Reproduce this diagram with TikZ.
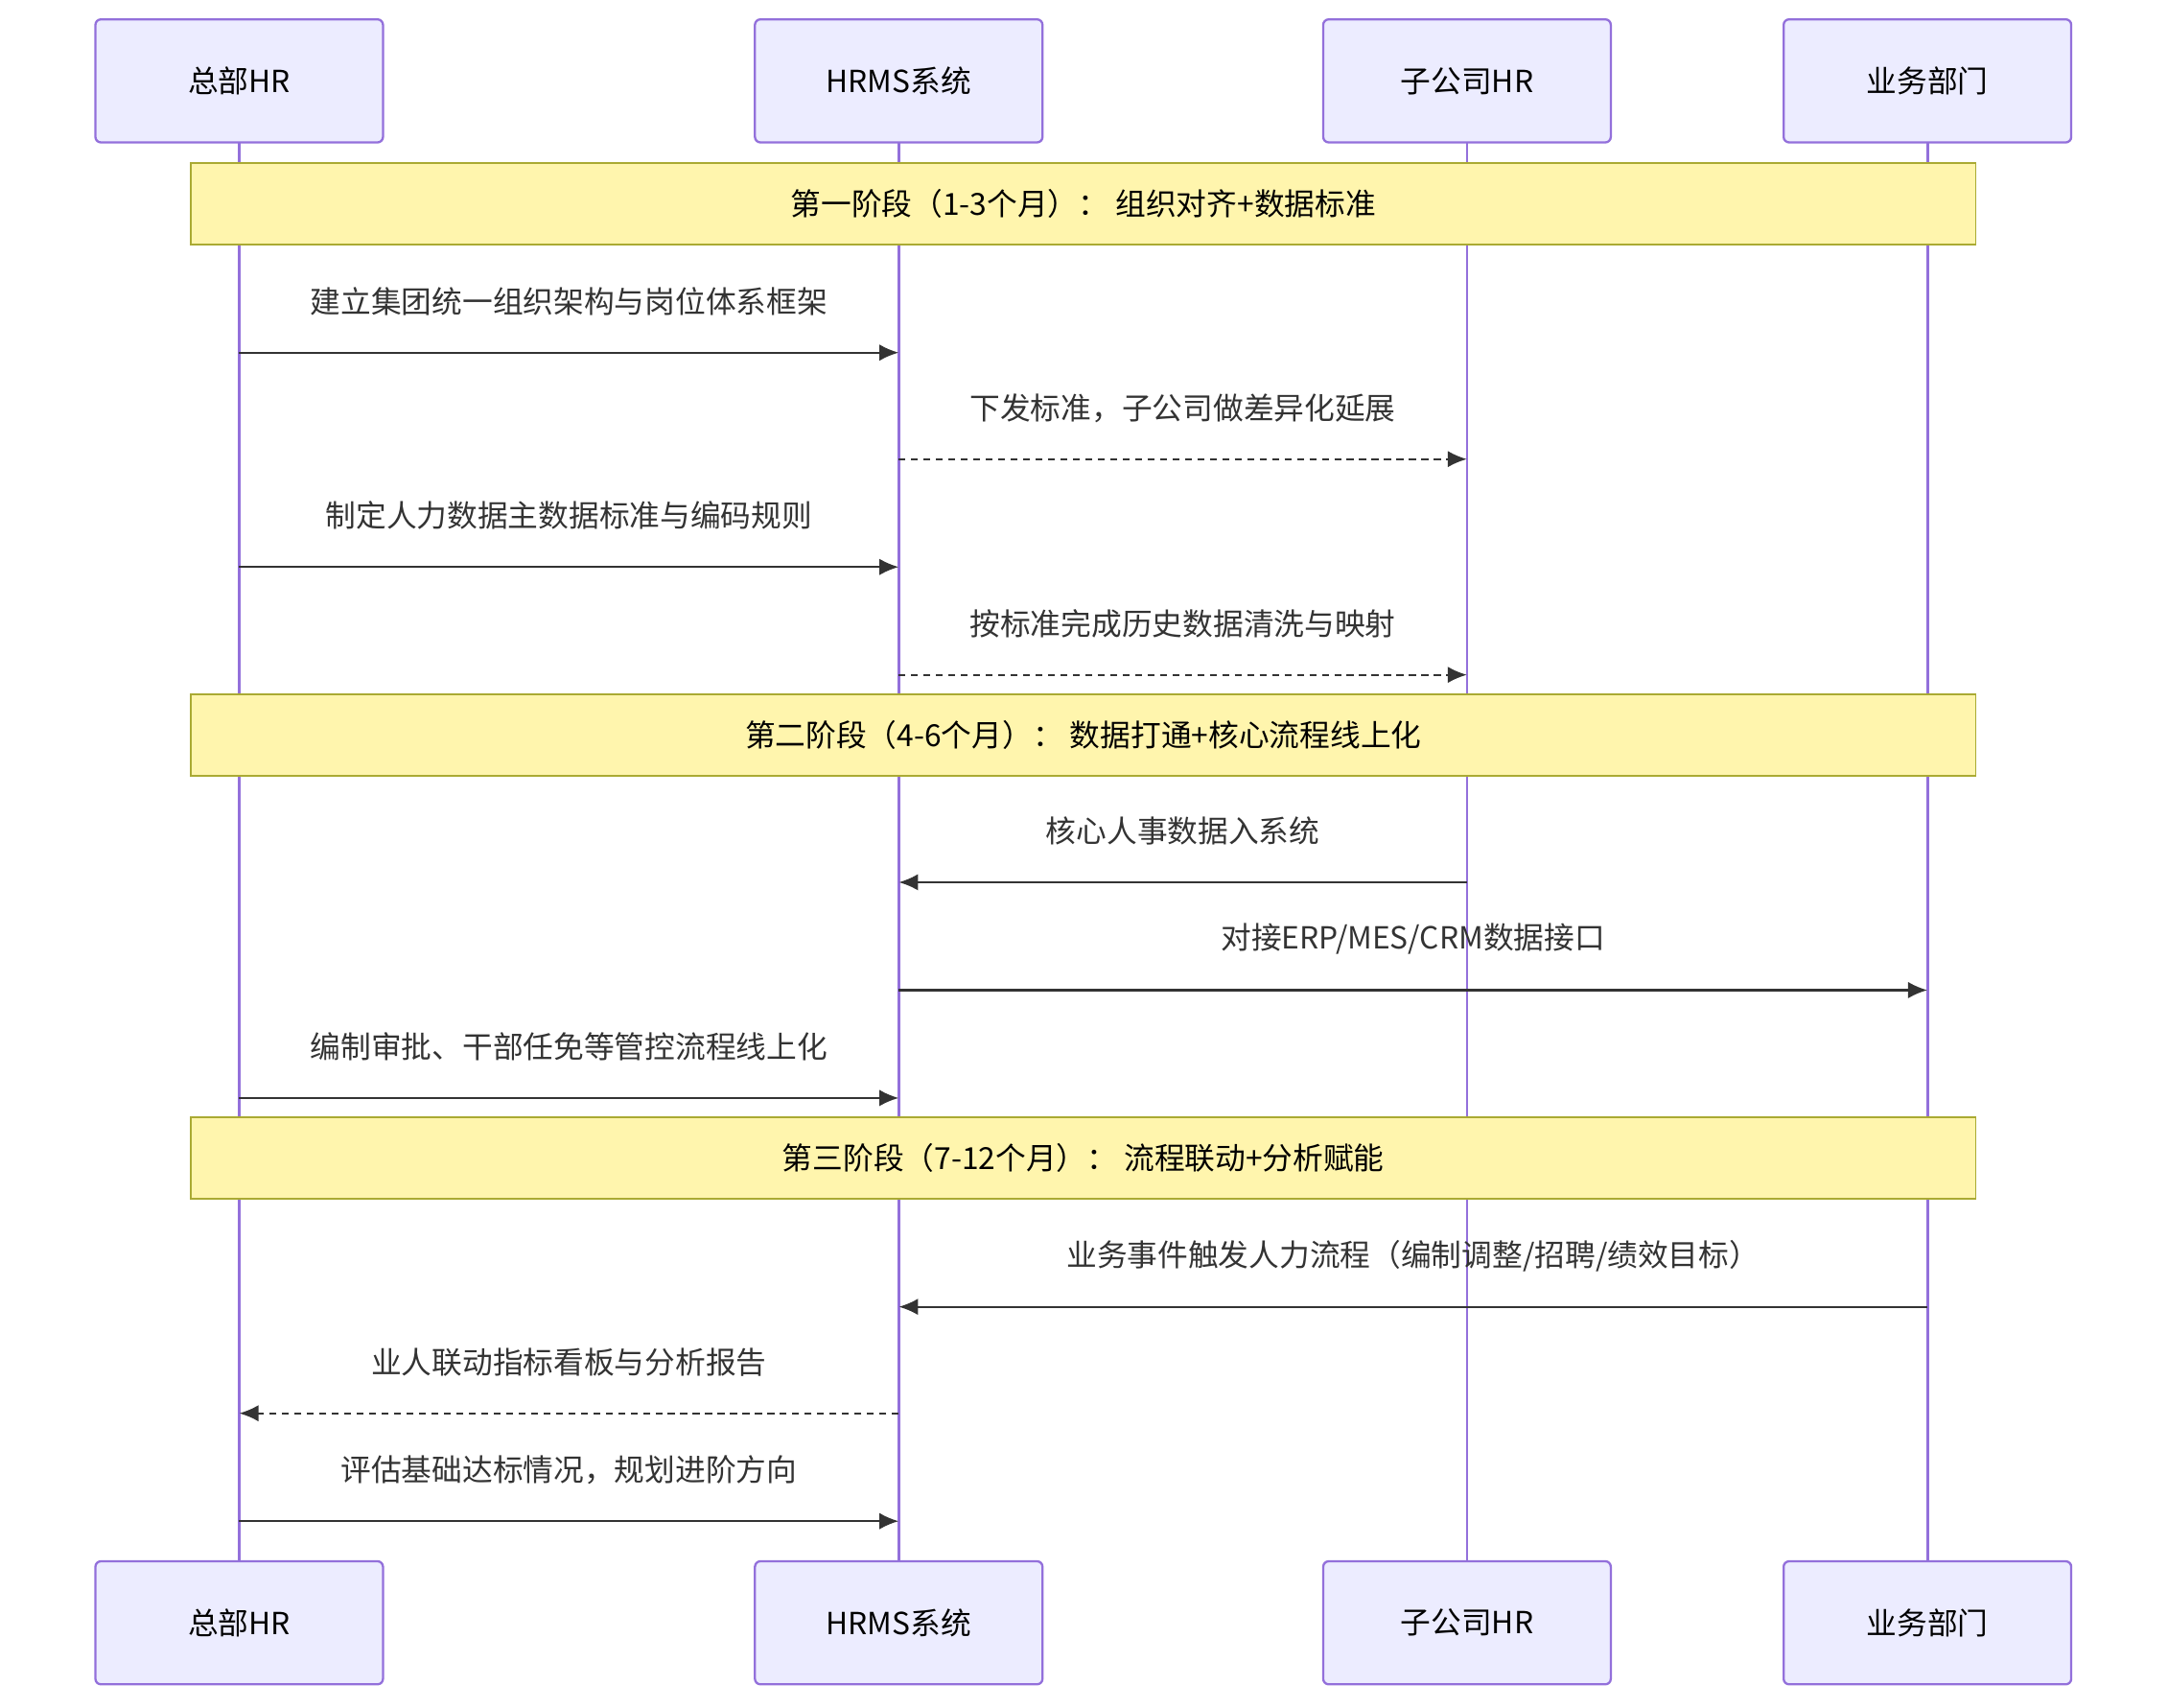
\documentclass[tikz,border=0pt]{standalone}
\usepackage{fontspec}
\setmainfont{Noto Sans CJK SC}
\usetikzlibrary{arrows.meta}
\definecolor{actf}{HTML}{ECECFF}
\definecolor{actb}{HTML}{9370DB}
\definecolor{notef}{HTML}{FFF5AD}
\definecolor{noteb}{HTML}{AAAA33}
\definecolor{ink}{HTML}{333333}
\begin{document}
\begin{tikzpicture}[x=0.5pt,y=-0.5pt,
 actor/.style={draw=actb,fill=actf,line width=0.8pt,rounded corners=2pt,minimum width=104pt,minimum height=44.5pt,font=\fontsize{11}{13}\selectfont,text=black},
 life/.style={draw=actb,line width=1pt},
 note/.style={draw=noteb,fill=notef,line width=0.6pt,minimum width=645.5pt,minimum height=29.5pt,font=\fontsize{11}{13}\selectfont},
 msg/.style={draw=ink,line width=0.8pt,-{Latex[length=7pt,width=6pt]}},
 dmsg/.style={msg,dash pattern=on 2.5pt off 2pt},
 lab/.style={font=\fontsize{11}{13}\selectfont,text=ink}]
\useasboundingbox (0,0) rectangle (1568,1234.5);
\foreach \n/\x/\t in {a/173/总部HR,b/650/HRMS系统,c/1061/子公司HR,d/1394/业务部门}{
  \draw[life] (\x,103) -- (\x,1129);
  \node[actor] (\n1) at (\x,58.5) {\t};
  \node[actor] (\n2) at (\x,1173.5) {\t};
}
\node[note] (n1) at (783.5,147.5) {第一阶段（1-3个月）： 组织对齐+数据标准};
\node[note] (n2) at (783.5,531.5) {第二阶段（4-6个月）： 数据打通+核心流程线上化};
\node[note] (n3) at (783.5,837.5) {第三阶段（7-12个月）： 流程联动+分析赋能};
\foreach \y/\xa/\xb/\s/\t in {
 255/173/650/msg/{建立集团统一组织架构与岗位体系框架},
 332/650/1061/dmsg/{下发标准，子公司做差异化延展},
 410/173/650/msg/{制定人力数据主数据标准与编码规则},
 488/650/1061/dmsg/{按标准完成历史数据清洗与映射},
 638/1061/650/msg/{核心人事数据入系统},
 716/650/1394/msg/{对接ERP/MES/CRM数据接口},
 794/173/650/msg/{编制审批、干部任免等管控流程线上化},
 945/1394/650/msg/{业务事件触发人力流程（编制调整/招聘/绩效目标）},
 1022/650/173/dmsg/{业人联动指标看板与分析报告},
 1100/173/650/msg/{评估基础达标情况，规划进阶方向}}{
  \coordinate (s) at (\xa,\y); \coordinate (e) at (\xb,\y);
  \draw[\s] (s) -- (e);
  \node[lab] at ({(\xa+\xb)/2},\y-37) {\t};
}
\end{tikzpicture}
\end{document}
